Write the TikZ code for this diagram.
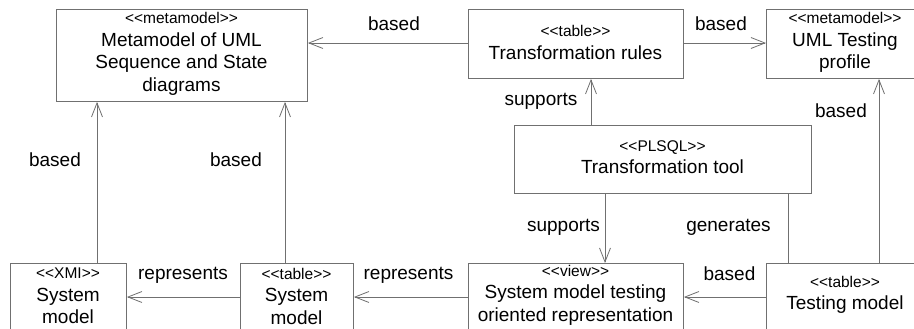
\documentclass[tikz,border=0pt]{standalone}
\usepackage{fontspec}
\setmainfont{Liberation Sans}
\usetikzlibrary{arrows.meta}
\definecolor{lc}{HTML}{707070}
\newcommand\stereo[1]{{\fontsize{15.5}{18}\selectfont <{}<#1>{}>}}
\begin{document}
\begin{tikzpicture}[x=1pt,y=-1pt,
  box/.style={draw=lc,line width=0.9pt,rectangle,inner sep=0pt,anchor=north west},
  txt/.style={align=center,inner sep=0pt,font=\fontsize{19}{22.5}\selectfont},
  lbl/.style={inner sep=0pt,font=\fontsize{19}{22}\selectfont},
  conn/.style={draw=lc,line width=0.9pt,-{Straight Barb[length=14pt,width=11pt,line width=0.8pt]}},
  plain/.style={draw=lc,line width=0.9pt}]
\useasboundingbox (0,0) rectangle (914,329);
\clip (0,0) rectangle (914,329);
\fill[white] (0,0) rectangle (914,329);
% boxes
\node[box,minimum width=251pt,minimum height=92pt] (meta) at (56,9) {};
\node[box,minimum width=215pt,minimum height=69pt] (rules) at (468,9) {};
\node[box,minimum width=160pt,minimum height=69pt] (utp) at (766,9) {};
\node[box,minimum width=297pt,minimum height=68pt] (tool) at (514,125) {};
\node[box,minimum width=116pt,minimum height=80pt] (xmi) at (10,263) {};
\node[box,minimum width=113pt,minimum height=80pt] (smt) at (240,263) {};
\node[box,minimum width=215pt,minimum height=80pt] (view) at (468,263) {};
\node[box,minimum width=160pt,minimum height=80pt] (test) at (766,263) {};
% texts
\node[txt] (tmeta) at (181.5,54) {\stereo{metamodel}\\Metamodel of UML\\Sequence and State\\diagrams};
\node[txt] (trules) at (575.5,42.5) {\stereo{table}\\Transformation rules};
\node[txt] (tutp) at (845,42.5) {\stereo{metamodel}\\UML Testing\\profile};
\node[txt] (ttool) at (662.5,157) {\stereo{PLSQL}\\Transformation tool};
\node[txt] (txmi) at (68,296) {\stereo{XMI}\\System\\model};
\node[txt] (tsmt) at (296.5,296) {\stereo{table}\\System\\model};
\node[txt] (tview) at (575.5,295) {\stereo{view}\\System model testing\\oriented representation};
\node[txt] (ttest) at (845,295) {\stereo{table}\\Testing model};
% helper coordinates
\coordinate (xa) at (591,0);
\coordinate (xb) at (879,0);
\coordinate (xc) at (605,0);
\coordinate (xd) at (788,0);
\coordinate (xe) at (97,0);
\coordinate (xf) at (285,0);
\coordinate (yb) at (0,297);
\coordinate (yt) at (0,43);
% connectors
\draw[conn] (rules.west |- yt) -- (meta.east |- yt);
\draw[conn] (rules.east |- yt) -- (utp.west |- yt);
\draw[conn] (tool.north -| xa) -- (rules.south -| xa);
\draw[conn] (test.north -| xb) -- (utp.south -| xb);
\draw[conn] (tool.south -| xc) -- (view.north -| xc);
\draw[plain] (tool.south -| xd) -- (test.north -| xd);
\draw[conn] (test.west |- yb) -- (view.east |- yb);
\draw[conn] (view.west |- yb) -- (smt.east |- yb);
\draw[conn] (smt.west |- yb) -- (xmi.east |- yb);
\draw[conn] (xmi.north -| xe) -- (meta.south -| xe);
\draw[conn] (smt.north -| xf) -- (meta.south -| xf);
% labels
\node[lbl] (l1) at (394,24) {based};
\node[lbl] (l2) at (721,24) {based};
\node[lbl] (l3) at (541,101) {supports};
\node[lbl] (l4) at (841,111) {based};
\node[lbl] (l5) at (55,160) {based};
\node[lbl] (l6) at (236,160) {based};
\node[lbl] (l7) at (563.5,227) {supports};
\node[lbl] (l8) at (728.5,227) {generates};
\node[lbl] (l9) at (729.5,274) {based};
\node[lbl] (l10) at (183,275) {represents};
\node[lbl] (l11) at (408.5,275) {represents};
\end{tikzpicture}
\end{document}
